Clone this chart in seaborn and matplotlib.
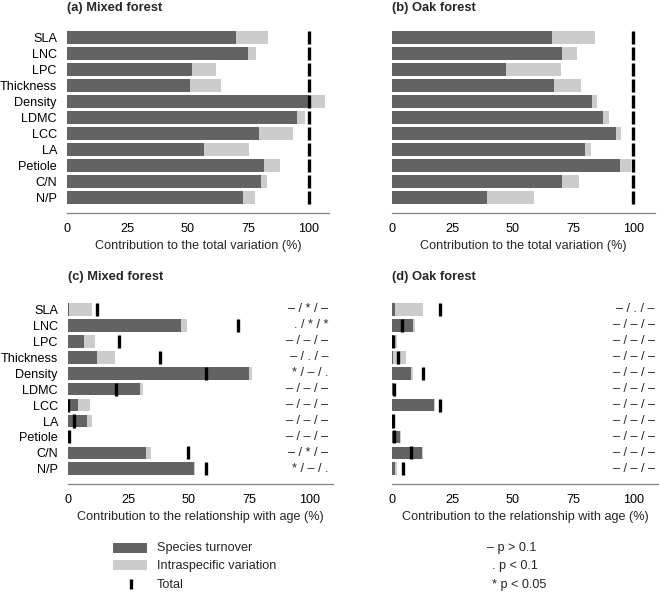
import numpy as np
import pandas as pd
import matplotlib
matplotlib.use("Agg")
import matplotlib.pyplot as plt
import seaborn as sns
from matplotlib.patches import Rectangle

# ---------------- data ----------------
traits = ["SLA", "LNC", "LPC", "Thickness", "Density", "LDMC", "LCC", "LA",
          "Petiole", "C/N", "N/P"]

# (a) Mixed forest - total variation
mix_var_turnover = [70.1, 75.1, 51.6, 50.8, 100.0, 95.1, 79.5, 56.6, 81.6, 80.1, 72.7]
mix_var_intra = [13.0, 3.3, 10.1, 12.8, 6.7, 3.5, 14.2, 18.8, 6.7, 2.7, 5.3]
mix_var_total = [100, 100, 100, 100, 100, 100, 100, 100, 100, 100, 100]

# (b) Oak forest - total variation
oak_var_turnover = [66.2, 70.3, 47.1, 67.0, 82.7, 87.4, 93.0, 80.0, 94.5, 70.3, 39.5]
oak_var_intra = [17.9, 6.5, 22.8, 11.2, 2.1, 2.4, 1.8, 2.3, 4.4, 7.3, 19.2]
oak_var_total = [100, 100, 100, 100, 100, 100, 100, 100, 100, 100, 100]

# (c) Mixed forest - relationship with age
mix_age_turnover = [0.5, 46.8, 6.9, 12.3, 75.2, 30.1, 4.3, 8.1, 0.0, 32.4, 52.4]
mix_age_intra = [9.4, 2.6, 4.3, 7.3, 1.2, 1.1, 4.9, 1.8, 0.0, 1.9, 0.2]
mix_age_total = [12.1, 70.5, 21.4, 38.2, 57.4, 19.9, 0.2, 2.5, 0.4, 49.7, 57.4]
mix_age_sig = ["– / * / –", ". / * / *", "– / – / –", "– / . / –", "* / – / .",
               "– / – / –", "– / – / –", "– / – / –", "– / – / –", "– / * / –",
               "* / – / ."]

# (d) Oak forest - relationship with age
oak_age_turnover = [1.2, 8.6, 0.8, 0.6, 7.7, 0.4, 17.4, 0.2, 3.3, 12.4, 1.4]
oak_age_intra = [11.5, 1.1, 1.4, 5.2, 0.9, 0.0, 0.5, 0.0, 0.6, 0.6, 0.8]
oak_age_total = [19.9, 4.0, 0.5, 2.3, 12.7, 0.8, 20.0, 0.3, 1.0, 8.0, 4.7]
oak_age_sig = ["– / . / –"] + ["– / – / –"] * 10

xticks = [0, 25, 50, 75, 100]
legend_labels = ["Species turnover", "Intraspecific variation", "Total"]
p_labels = ["– p > 0.1", ". p < 0.1", "* p < 0.05"]

# ---------------- style ----------------
sns.set_style("white")
plt.rcParams["font.family"] = ["Liberation Sans", "DejaVu Sans"]
DARK = "#636363"
LIGHT = "#cccccc"
AXC = "#808080"
FS = 9.1

W, H = 660, 592
fig = plt.figure(figsize=(W / 100, H / 100), dpi=100)


def add_ax(left, top, width, bottom):
    return fig.add_axes([left / W, 1 - bottom / H, width / W, (bottom - top) / H])


def panel(ax, turnover, intra, total, xmax, ylabels, xlabel, barw, sig=None, sigx=None):
    df = pd.DataFrame({"trait": traits,
                       "turn": turnover,
                       "cum": np.array(turnover) + np.array(intra),
                       "total": total})
    sns.barplot(data=df, x="cum", y="trait", order=traits, color=LIGHT, orient="h",
                width=barw, saturation=1, errorbar=None, ax=ax, linewidth=0)
    sns.barplot(data=df, x="turn", y="trait", order=traits, color=DARK, orient="h",
                width=barw, saturation=1, errorbar=None, ax=ax, linewidth=0)
    ypos = np.arange(len(traits))
    ax.vlines(df["total"], ypos - 0.41, ypos + 0.41, colors="black",
              linewidth=2.4, zorder=5)
    ax.set_xlim(0, xmax)
    ax.set_ylim(10.95, -0.5)
    ax.set_xticks(xticks)
    ax.set_xticklabels([str(t) for t in xticks], fontsize=FS)
    ax.set_xlabel(xlabel, fontsize=FS, labelpad=3)
    ax.set_ylabel("")
    ax.set_yticks(ypos)
    if ylabels:
        ax.set_yticklabels(traits, fontsize=FS)
    else:
        ax.set_yticklabels([])
    for s in ["top", "right", "left"]:
        ax.spines[s].set_visible(False)
    ax.spines["bottom"].set_color(AXC)
    ax.spines["bottom"].set_linewidth(0.9)
    ax.tick_params(axis="x", direction="in", length=4, width=0.9, color=AXC, pad=7.5,
                   labelcolor="black")
    ax.tick_params(axis="y", length=0, pad=7, labelcolor="black")
    if sig is not None:
        for i, s in enumerate(sig):
            ax.text(sigx, i, s, ha="right", va="center", fontsize=FS,
                    transform=ax.transData, clip_on=False)


xl_var = "Contribution to the total variation (%)"
xl_age = "Contribution to the relationship with age (%)"

ax_a = add_ax(66.7, 29.7, 262.3, 213)
panel(ax_a, mix_var_turnover, mix_var_intra, mix_var_total, 108.4, True, xl_var, 0.83)
ax_b = add_ax(392, 29.7, 263, 213)
panel(ax_b, oak_var_turnover, oak_var_intra, oak_var_total, 109, False, xl_var, 0.83)
ax_c = add_ax(67.7, 301.4, 265.3, 484)
panel(ax_c, mix_age_turnover, mix_age_intra, mix_age_total, 109.8, True, xl_age, 0.8,
      mix_age_sig, 107.8)
ax_d = add_ax(392, 301.4, 266, 484)
panel(ax_d, oak_age_turnover, oak_age_intra, oak_age_total, 110.3, False, xl_age, 0.8,
      oak_age_sig, 109.0)

# ---------------- overlay: titles and legends ----------------
ov = fig.add_axes([0, 0, 1, 1], zorder=-1)
ov.set_xlim(0, W)
ov.set_ylim(H, 0)
ov.axis("off")

ov.text(67, 7.5, "(a) Mixed forest", fontsize=9.3, fontweight="bold", va="center", ha="left")
ov.text(392.5, 7.5, "(b) Oak forest", fontsize=9.3, fontweight="bold", va="center", ha="left")
ov.text(67.5, 277, "(c) Mixed forest", fontsize=9.3, fontweight="bold", va="center", ha="left")
ov.text(392.5, 277, "(d) Oak forest", fontsize=9.3, fontweight="bold", va="center", ha="left")

ov.add_patch(Rectangle((113, 542.5), 34, 10, color=DARK, lw=0))
ov.add_patch(Rectangle((113, 560), 34, 10, color=LIGHT, lw=0))
ov.plot([130.7, 130.7], [579, 589], color="black", lw=2.4, solid_capstyle="butt")
for yy, lab in zip([547.5, 565.5, 584.5], legend_labels):
    ov.text(157, yy, lab, fontsize=FS, va="center", ha="left")

for yy, lab, xx in zip([548, 566, 585], p_labels, [487, 492, 492]):
    ov.text(xx, yy, lab, fontsize=FS, va="center", ha="left")

fig.savefig("out.png", dpi=100, facecolor="white")
